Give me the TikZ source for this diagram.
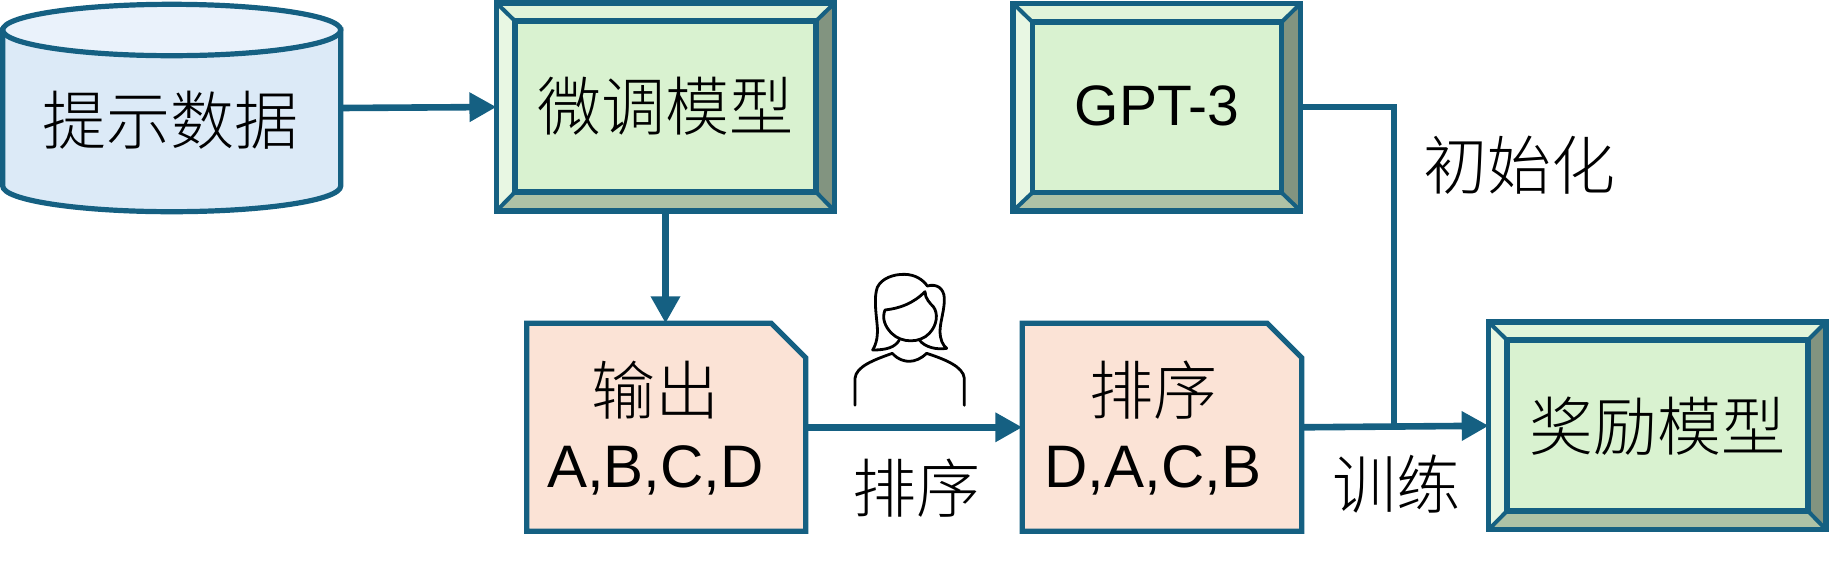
\documentclass[tikz,border=0pt]{standalone}
\usepackage{fontspec}
\setmainfont{Liberation Sans}
\newfontfamily\cjk{Noto Sans CJK SC}[UprightFont={* Light}]
\usetikzlibrary{arrows.meta}
\definecolor{stk}{HTML}{156082}
\definecolor{grn}{HTML}{D9F2D0}
\definecolor{grnT}{HTML}{E1F4DA}
\definecolor{grnL}{HTML}{E8F7E3}
\definecolor{grnR}{HTML}{829480}
\definecolor{grnB}{HTML}{AEC2A6}
\definecolor{org}{HTML}{FBE3D6}
\definecolor{blu}{HTML}{DCEAF7}
\definecolor{bluT}{HTML}{EAF2FB}
\tikzset{
  edge/.style={draw=stk,line width=5.2pt,line join=miter},
  diag/.style={draw=stk,line width=4pt},
  conn/.style={draw=stk,line width=6.6pt,-{Triangle[length=27pt,width=28pt]}},
  plainconn/.style={draw=stk,line width=6.5pt},
  zh/.style={inner sep=0pt,outer sep=0pt,font=\cjk\fontsize{64}{72}\selectfont,text=black},
  la/.style={inner sep=0pt,outer sep=0pt,font=\fontsize{57}{72}\selectfont,text=black},
  mixed/.style={inner sep=0pt,outer sep=0pt,align=center,text=black},
  ghost/.style={inner sep=0pt,outer sep=0pt,draw=none},
  person/.style={draw=black,line width=2.8pt,line cap=round,line join=round},
}
% name x0 y0 x1 y1 ix0 iy0 ix1 iy1
\newcommand{\bevelbox}[9]{%
  \def\nm{#1}\def\xa{#2}\def\ya{#3}\def\xb{#4}\def\yb{#5}%
  \def\ixa{#6}\def\iya{#7}\def\ixb{#8}\def\iyb{#9}%
  \fill[grnT] (\xa,\ya)--(\xb,\ya)--(\ixb,\iya)--(\ixa,\iya)--cycle;
  \fill[grnB] (\xa,\yb)--(\xb,\yb)--(\ixb,\iyb)--(\ixa,\iyb)--cycle;
  \fill[grnL] (\xa,\ya)--(\ixa,\iya)--(\ixa,\iyb)--(\xa,\yb)--cycle;
  \fill[grnR] (\xb,\ya)--(\ixb,\iya)--(\ixb,\iyb)--(\xb,\yb)--cycle;
  \draw[diag] (\xa,\ya)--(\ixa,\iya) (\xb,\ya)--(\ixb,\iya) (\xa,\yb)--(\ixa,\iyb) (\xb,\yb)--(\ixb,\iyb);
  \path[edge,fill=grn] (\ixa,\iya) rectangle (\ixb,\iyb);
  \path[edge] (\xa,\ya) rectangle (\xb,\yb);
}
\newcommand{\docshape}[4]{% x0 y0 x1 y1
  \path[edge,fill=org] (#1,#2)--({#3-34.4},#2)--(#3,{#2+34.4})--(#3,#4)--(#1,#4)--cycle;
}
\begin{document}
\begin{tikzpicture}[x=1pt,y=-1pt]
\useasboundingbox (0,0) rectangle (1829,566);
% database
\path[edge,fill=blu] (2.7,30) -- (2.7,186) arc[start angle=180,end angle=360,x radius=169,y radius=-25.7] -- (340.7,30) -- cycle;
\path[edge,fill=bluT] (171.7,30) ellipse[x radius=169,y radius=25.7];
\node[ghost,minimum width=338pt,minimum height=207pt] (db) at (171.7,108) {};
\node[zh] (dbt) at (170,120) {提示数据};
% bevel boxes
\bevelbox{fine}{496.5}{3}{834.6}{211}{515}{21}{816}{192}
\node[ghost,minimum width=338.1pt,minimum height=208pt] (fine) at (665.5,107) {};
\node[zh] (finet) at (665,106.5) {微调模型};
\bevelbox{gpt}{1013}{3.3}{1300.7}{211}{1032.3}{22}{1281.7}{192.7}
\node[ghost,minimum width=287.7pt,minimum height=207.7pt] (gpt) at (1156.85,107) {};
\node[la] (gptt) at (1157,106) {GPT-3};
\bevelbox{rew}{1488.7}{322}{1826}{529.5}{1507}{340}{1808}{511}
\node[ghost,minimum width=337.3pt,minimum height=207.5pt] (rew) at (1657.35,425.75) {};
\node[zh] (rewt) at (1657.6,426) {奖励模型};
% documents
\docshape{526.7}{323.3}{805.7}{531.3}
\node[ghost,minimum width=279pt,minimum height=208pt] (out) at (666.2,427.3) {};
\node[mixed] (outt) at (655.5,428) {\cjk\fontsize{64}{72}\selectfont 输出\\[26pt]\rmfamily\fontsize{60}{72}\selectfont A,B,C,D};
\docshape{1022.3}{323.3}{1301.7}{531.3}
\node[ghost,minimum width=279.4pt,minimum height=208pt] (srt) at (1162,427.3) {};
\node[mixed] (srtt) at (1153,428) {\cjk\fontsize{64}{72}\selectfont 排序\\[26pt]\rmfamily\fontsize{60}{72}\selectfont D,A,C,B};
% connectors
\coordinate (junc) at (1394,426.5);
\draw[conn] (db.east) -- (fine.west);
\draw[conn] (fine.south) -- (fine.south |- out.north);
\draw[conn] (out.east) -- (srt.west);
\draw[plainconn] (gpt.east) -| (junc);
\draw[conn] (srt.east) -- (rew.west);
% labels
\node[zh] (l1) at (1519,165) {初始化};
\node[zh] (l2) at (916,488) {排序};
\node[zh] (l3) at (1396.5,484) {训练};
% person
\begin{scope}[shift={(830,260)},scale=1/3]
\draw[person] (128,270) .. controls (170,270) and (195,262) .. (208,240);
\draw[person] (128,270) .. controls (140,250) and (145,225) .. (141,190) .. controls (137,150) and (132,110) .. (142,82) .. controls (155,55) and (190,42) .. (225,43) .. controls (255,44) and (278,58) .. (292,78) .. controls (320,70) and (342,85) .. (343,115) .. controls (344,150) and (330,185) .. (330,215) .. controls (331,240) and (338,255) .. (350,265) .. controls (320,270) and (285,262) .. (268,240);
\draw[person] (165,150) .. controls (210,145) and (250,130) .. (285,95) .. controls (285,115) and (300,130) .. (310,140) .. controls (325,160) and (322,195) .. (298,220) .. controls (270,250) and (215,250) .. (185,220) .. controls (165,200) and (155,175) .. (165,150) -- cycle;
\draw[person] (75,436) -- (75,355) .. controls (78,320) and (130,300) .. (187,280) .. controls (205,300) and (225,304) .. (238,304) .. controls (255,304) and (275,295) .. (290,280) .. controls (345,298) and (400,320) .. (403,355) -- (403,436);
\end{scope}
\end{tikzpicture}
\end{document}
